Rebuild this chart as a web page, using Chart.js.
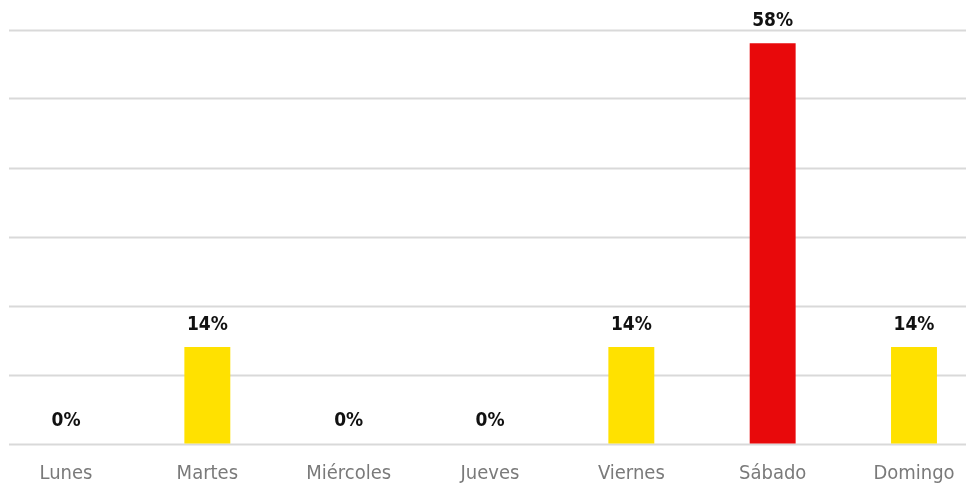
<!DOCTYPE html>
<html>
<head>
<meta charset="utf-8">
<script src="https://cdn.jsdelivr.net/npm/chart.js@4/dist/chart.umd.min.js"></script>
<style>
  html, body { margin: 0; padding: 0; background: #fff; overflow: hidden; }
  #wrap { width: 968px; height: 487px; }
</style>
</head>
<body>
<div id="wrap"><canvas id="dayChart"></canvas></div>
<script>
// Chart data
var days = ['Lunes', 'Martes', 'Miércoles', 'Jueves', 'Viernes', 'Sábado', 'Domingo'];
var shares = [0, 14, 0, 0, 14, 58, 14];
var barColors = ['#FFE100', '#FFE100', '#FFE100', '#FFE100', '#FFE100', '#E8090B', '#FFE100'];
var yTicks = [0, 10, 20, 30, 40, 50, 60];

var fontFamily = '"DejaVu Sans Condensed", "Liberation Sans Narrow", sans-serif';

// Horizontal grid lines, wider than the plot area
var gridPlugin = {
    id: 'gridLines',
    beforeDatasetsDraw: function(chart) {
        var ctx = chart.ctx;
        var y = chart.scales.y;
        ctx.save();
        ctx.strokeStyle = '#d9d9d9';
        ctx.lineWidth = 2;
        for (var i = 0; i < yTicks.length; i++) {
            var py = Math.round(y.getPixelForValue(yTicks[i])) + 0.5;
            ctx.beginPath();
            ctx.moveTo(9, py);
            ctx.lineTo(966, py);
            ctx.stroke();
        }
        ctx.restore();
    }
};

// Percent labels above each bar
var labelPlugin = {
    id: 'barLabels',
    afterDatasetsDraw: function(chart) {
        var ctx = chart.ctx;
        var meta = chart.getDatasetMeta(0);
        ctx.save();
        ctx.font = 'bold 19px ' + fontFamily;
        ctx.fillStyle = '#111';
        ctx.textAlign = 'center';
        ctx.textBaseline = 'middle';
        for (var i = 0; i < meta.data.length; i++) {
            var bar = meta.data[i];
            ctx.fillText(shares[i] + '%', bar.x, bar.y - 22);
        }
        ctx.restore();
    }
};

var ctx = document.getElementById('dayChart').getContext('2d');
var dayChart = new Chart(ctx, {
    type: 'bar',
    data: {
        labels: days,
        datasets: [{
            data: shares,
            backgroundColor: barColors,
            borderWidth: 0,
            categoryPercentage: 1,
            barPercentage: 0.325,
            clip: false
        }]
    },
    options: {
        responsive: true,
        maintainAspectRatio: false,
        animation: false,
        layout: {
            padding: { left: 66, right: 54, top: 29.5, bottom: 0 }
        },
        plugins: {
            legend: { display: false },
            tooltip: { enabled: false }
        },
        scales: {
            x: {
                offset: false,
                grid: { display: false, drawTicks: false },
                border: { display: false },
                ticks: {
                    color: '#7a7a7a',
                    padding: 18,
                    maxRotation: 0,
                    autoSkip: false,
                    font: { family: fontFamily, size: 20 }
                },
                afterFit: function(scale) {
                    scale.height = 43.5;
                    scale.paddingLeft = 0;
                    scale.paddingRight = 0;
                }
            },
            y: {
                display: false,
                min: 0,
                max: 60,
                ticks: { stepSize: 10 }
            }
        }
    },
    plugins: [gridPlugin, labelPlugin]
});
</script>
</body>
</html>
